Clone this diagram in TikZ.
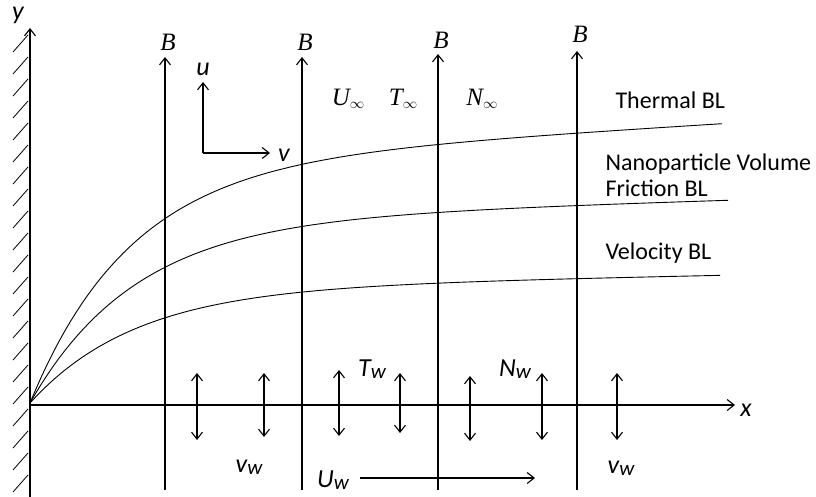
\documentclass[tikz,border=0pt]{standalone}
\usepackage{fontspec}
\setmainfont{Carlito}
\newfontfamily\tms{Liberation Serif}
\usetikzlibrary{arrows.meta}
\newcommand{\subw}{\raisebox{-2pt}{\fontsize{21}{21}\selectfont w}}
\newcommand{\infsub}{\raisebox{-3pt}{\fontsize{15}{15}\selectfont$\infty$}}
\begin{document}
\begin{tikzpicture}[x=1pt,y=-1pt,
  line width=1.1pt,
  arr/.style={-{Straight Barb[length=7pt,width=11pt]}},
  darr/.style={{Straight Barb[length=7pt,width=11pt]}-{Straight Barb[length=7pt,width=11pt]}},
  bl/.style={line width=0.9pt},
  hatch/.style={line width=0.8pt},
  lbl/.style={font=\fontsize{24}{26}\selectfont, anchor=west, inner sep=0, align=left},
  sym/.style={font=\fontsize{26}{28}\selectfont\itshape, inner sep=0},
  bsym/.style={font=\fontsize{25}{27}\selectfont\tms\itshape, inner sep=0}
]
\useasboundingbox (0,0) rectangle (816,497);

% wall and axes
\coordinate (O) at (30,404);
\coordinate (ytip) at (30,28);
\coordinate (wallbot) at (30,497);
\draw[arr] (wallbot) -- (ytip);
\node[sym] (ylab) at (18,15) {y};
\foreach \yy in {35,57,...,490} \draw[hatch] (13,\yy+17) -- (28,\yy);
\coordinate (xo) at (30,405);
\coordinate (xtip) at (735,405);
\draw[arr] (xo) -- (xtip);
\node[sym] (xlab) at (746,410) {x};

% magnetic field arrows
\foreach \xx/\tp/\lb [count=\i] in {165/57/42, 302/57/42, 438/54/40, 577/51/34}{
  \coordinate (bb\i) at (\xx,490);
  \coordinate (bt\i) at (\xx,\tp);
  \draw[arr] (bb\i) -- (bt\i);
  \node[bsym] (blab\i) at (\xx+3,\lb) {B};
}

% u-v frame
\coordinate (uv) at (203,153);
\coordinate (utip) at (203,82);
\coordinate (vtip) at (270,153);
\draw[arr] (uv) -- (utip);
\draw[arr] (uv) -- (vtip);
\node[sym] (ulab) at (203,69) {u};
\node[sym] (vlab) at (284,155) {v};

% free stream labels
\node[bsym] (uinf) at (348,99) {U\infsub};
\node[bsym] (tinf) at (403,99) {T\infsub};
\node[bsym] (ninf) at (482,99) {N\infsub};

% boundary layers
\draw[bl] plot[domain=0:692, samples=120] ({30+\x},{403-238*(1-exp(-\x/100))-0.06*\x});
\draw[bl] plot[domain=0:698, samples=120] ({30+\x},{403-182*(1-exp(-\x/105))-0.03*\x});
\draw[bl] plot[domain=0:690, samples=120] ({30+\x},{403-114*(1-exp(-\x/105))-0.02*\x});

\node[lbl] (thbl) at (615,100) {Thermal BL};
\node[lbl] (npbl) at (605,175) {Nanoparticle Volume\\Friction BL};
\node[lbl] (vbl) at (605,253) {Velocity BL};

% wall suction/injection arrows
\foreach \xx/\ta/\bo [count=\j] in {197/373/440, 264/373/437, 339/370/436, 400/373/433, 470/376/441, 542/373/440, 617/373/440}{
  \coordinate (dt\j) at (\xx,\ta);
  \coordinate (db\j) at (\xx,\bo);
  \draw[darr] (db\j) -- (dt\j);
}

\node[sym] (tw) at (372,369) {T\subw};
\node[sym] (nw) at (515,369) {N\subw};
\node[sym] (vw1) at (249,467) {v\subw};
\node[sym] (vw2) at (621,468) {v\subw};
\node[sym] (uw) at (333,480) {U\subw};
\coordinate (uws) at (360,478);
\coordinate (uwe) at (535,478);
\draw[arr] (uws) -- (uwe);
\end{tikzpicture}
\end{document}
